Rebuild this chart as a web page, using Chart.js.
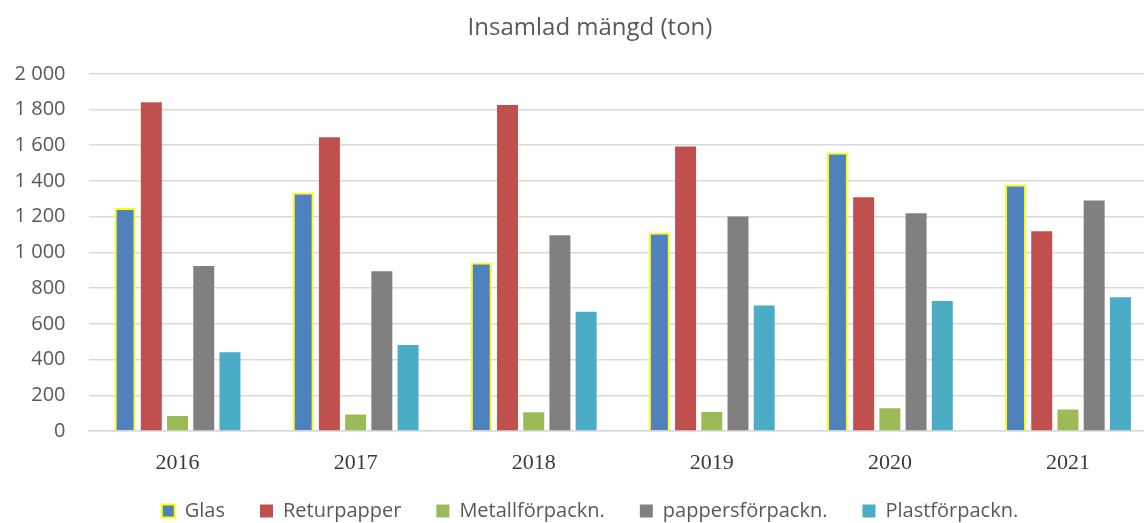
<!DOCTYPE html>
<html>
<head>
<meta charset="utf-8">
<script src="https://cdn.jsdelivr.net/npm/chart.js@4/dist/chart.umd.min.js"></script>
<style>
  html, body { margin: 0; padding: 0; background: #ffffff; overflow: hidden; }
  #wrap { width: 1180px; height: 523px; }
</style>
</head>
<body>
<div id="wrap"><canvas id="c" width="1180" height="523"></canvas></div>
<script>
const categories = ['2016', '2017', '2018', '2019', '2020', '2021'];
const glas = [1248, 1335, 943, 1111, 1559, 1380];
const returpapper = [1841, 1645, 1826, 1593, 1309, 1119];
const metall = [84, 92, 105, 106, 127, 121];
const pappers = [924, 895, 1096, 1201, 1219, 1290];
const plast = [441, 482, 667, 702, 728, 749];
const yTickLabels = ['0', '200', '400', '600', '800', '1 000', '1 200', '1 400', '1 600', '1 800', '2 000'];

const sans = "'Open Sans', 'Liberation Sans', sans-serif";

const legendFitPlugin = {
  id: 'legendFit',
  afterInit(chart) {
    const lg = chart.legend;
    if (!lg) return;
    const orig = lg.fit.bind(lg);
    lg.fit = function () { orig(); this.height = 46; };
  },
  afterLayout(chart) {
    const lg = chart.legend;
    if (!lg) return;
    lg.top -= 11;
    lg.bottom = chart.height;
    lg.height = lg.bottom - lg.top;
  }
};

new Chart(document.getElementById('c'), {
  type: 'bar',
  data: {
    labels: categories,
    datasets: [
      { label: 'Glas', data: glas, backgroundColor: '#4F81BD', borderColor: '#FFFF00', borderWidth: 2 },
      { label: 'Returpapper', data: returpapper, backgroundColor: '#C0504D', borderWidth: 0 },
      { label: 'Metallförpackn.', data: metall, backgroundColor: '#9BBB59', borderWidth: 0 },
      { label: 'pappersförpackn.', data: pappers, backgroundColor: '#808080', borderWidth: 0 },
      { label: 'Plastförpackn.', data: plast, backgroundColor: '#4BACC6', borderWidth: 0 }
    ]
  },
  plugins: [legendFitPlugin],
  options: {
    responsive: false,
    animation: false,
    layout: { padding: 0 },
    datasets: { bar: { categoryPercentage: 0.736, barPercentage: 0.8 } },
    plugins: {
      tooltip: { enabled: false },
      title: {
        display: true,
        text: 'Insamlad mängd (ton)',
        color: '#595959',
        font: { family: sans, size: 24, weight: 'normal' },
        padding: { top: 14, bottom: 31 }
      },
      legend: {
        position: 'bottom',
        labels: {
          color: '#595959',
          font: { family: sans, size: 20 },
          boxWidth: 13,
          boxHeight: 13,
          padding: 35
        }
      }
    },
    scales: {
      x: {
        afterFit: (s) => { s.height = 46; },
        grid: { display: false, drawTicks: false },
        border: { display: true, color: '#d9d9d9', width: 1.5 },
        ticks: {
          color: '#3a3a3a',
          font: { family: "'Liberation Serif', 'Times New Roman', serif", size: 22 },
          padding: 19
        }
      },
      y: {
        min: 0,
        max: 2000,
        afterFit: (s) => { s.width = 88.5; },
        grid: { color: '#d9d9d9', lineWidth: 1.5, drawTicks: false },
        border: { display: false },
        ticks: {
          stepSize: 200,
          color: '#595959',
          font: { family: sans, size: 20 },
          padding: 23,
          callback: (v, i) => yTickLabels[i]
        }
      },
      spacer: {
        type: 'linear',
        position: 'right',
        afterFit: (s) => { s.width = 23; },
        grid: { display: false, drawTicks: false },
        border: { display: false },
        ticks: { display: false }
      }
    }
  }
});
</script>
</body>
</html>
